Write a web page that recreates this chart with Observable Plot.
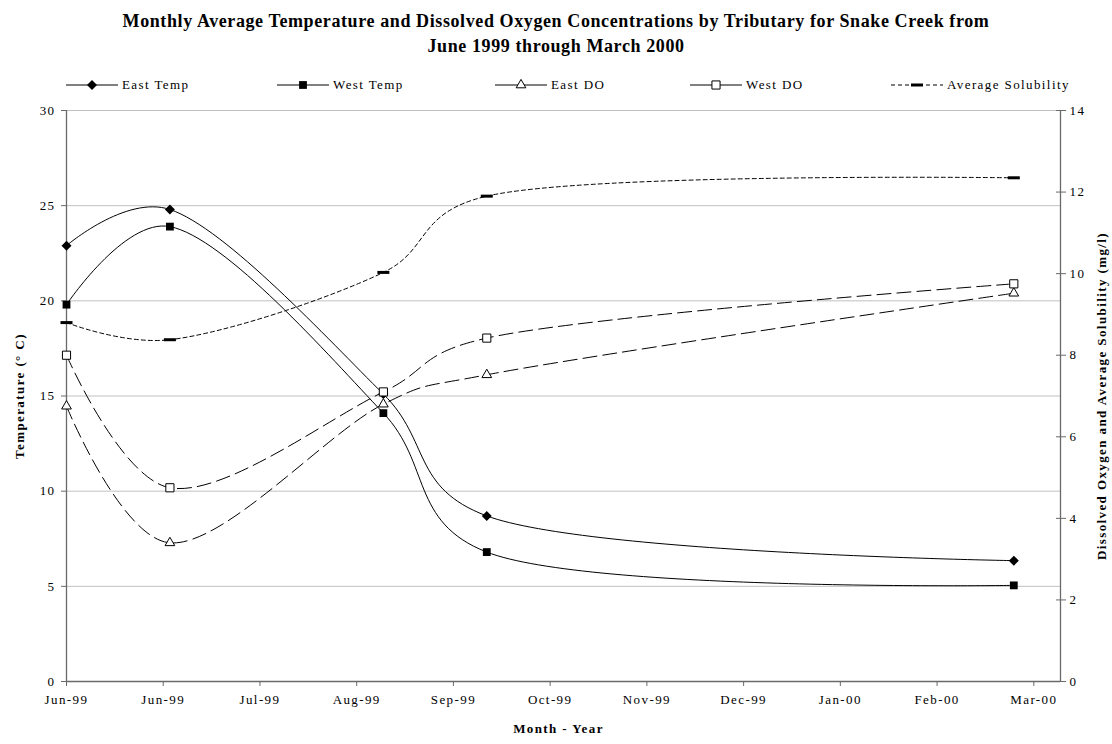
<!DOCTYPE html>
<html><head><meta charset="utf-8">
<script src="https://cdn.jsdelivr.net/npm/d3@7"></script>
<script src="https://cdn.jsdelivr.net/npm/@observablehq/plot@0.6"></script>
<style>
body{margin:0;background:#fff;font-family:"Liberation Serif","Times New Roman",serif;color:#000;}
#wrap{width:1112px;height:744px;position:relative;overflow:hidden;background:#fff}
#title{height:70px;box-sizing:border-box;padding-top:9px;text-align:center;font-weight:bold;font-size:18px;line-height:25px;letter-spacing:0.6px}
#legend{position:relative;height:30px;}
.li{position:absolute;top:0;height:30px;display:flex;align-items:center;font-size:13px;letter-spacing:1.4px;white-space:nowrap}
.li svg{margin-right:4px}
#chart svg text{letter-spacing:1.4px}
#chart g[aria-label="right-title"] text{letter-spacing:2px}
#chart g[aria-label="x-title"] text{letter-spacing:0.8px}
#chart g[aria-label="left-title"] text{letter-spacing:0.8px}
</style></head><body>
<div id="wrap">
<div id="title">Monthly Average Temperature and Dissolved Oxygen Concentrations by Tributary for Snake Creek from<br>June 1999 through March 2000</div>
<div id="legend"></div>
<div id="chart"></div>
</div>
<script>
// ---- data ----
const sampleDates = ["1999-06-01", "1999-07-02", "1999-09-04", "1999-10-05", "2000-03-11"];
const eastTemp = [22.9, 24.8, 15.1, 8.7, 6.35];
const westTemp = [19.8, 23.9, 14.1, 6.8, 5.05];
const eastDO   = [6.75, 3.4, 6.8, 7.52, 9.52];
const westDO   = [8.0, 4.75, 7.1, 8.42, 9.75];
const avgSolubility = [8.8, 8.38, 10.03, 11.9, 12.35];

const seriesNames = ["East Temp", "West Temp", "East DO", "West DO", "Average Solubility"];
const leftTicks = [0, 5, 10, 15, 20, 25, 30];
const rightTicks = [0, 2, 4, 6, 8, 10, 12, 14];
const xDomain = ["1999-06-01", "2000-03-25"];
const xTickDates = ["1999-06-01", "1999-06-30", "1999-07-29", "1999-08-27", "1999-09-25", "1999-10-24",
  "1999-11-22", "1999-12-21", "2000-01-19", "2000-02-17", "2000-03-17"];
const xTickLabels = ["Jun-99", "Jun-99", "Jul-99", "Aug-99", "Sep-99", "Oct-99", "Nov-99", "Dec-99", "Jan-00", "Feb-00", "Mar-00"];
const leftTitle = "Temperature (° C)";
const rightTitle = "Dissolved Oxygen and Average Solubility (mg/l)";
const xTitle = "Month - Year";

// ---- derived ----
const ratio = leftTicks[leftTicks.length - 1] / rightTicks[rightTicks.length - 1];
const parse = s => new Date(s + "T00:00:00Z");
const dates = sampleDates.map(parse);
const tickDates = xTickDates.map(parse);
const labelOf = new Map(tickDates.map((d, i) => [+d, xTickLabels[i]]));

const dashBar = {draw(ctx) { ctx.rect(-6, -1.5, 12, 3); }};
const styles = [
  {values: eastTemp, right: false, dash: null, symbol: "diamond2", r: 4.5, fill: "#000", stroke: "none"},
  {values: westTemp, right: false, dash: null, symbol: "square", r: 4.4, fill: "#000", stroke: "none"},
  {values: eastDO, right: true, dash: "14,6", symbol: "triangle", r: 3.6, fill: "#fff", stroke: "#000"},
  {values: westDO, right: true, dash: "14,6", symbol: "square", r: 4.6, fill: "#fff", stroke: "#000"},
  {values: avgSolubility, right: true, dash: "4,3", symbol: dashBar, r: 4, fill: "#000", stroke: "none"}
];

const seriesMarks = [];
styles.forEach((s, k) => {
  const rows = s.values.map((v, i) => ({date: dates[i], value: v, y: s.right ? v * ratio : v, series: seriesNames[k]}));
  seriesMarks.push(Plot.line(rows, {x: "date", y: "y", curve: "catmull-rom", tension: 0.25, stroke: "#000", strokeWidth: 1,
    strokeDasharray: s.dash ?? undefined}));
  seriesMarks.push(Plot.dot(rows, {x: "date", y: "y", symbol: s.symbol, r: s.r, fill: s.fill, stroke: s.stroke, strokeWidth: 1}));
});

const axisColor = "#6a6a6a";
const chart = Plot.plot({
  width: 1112,
  height: 644,
  marginLeft: 66,
  marginRight: 52,
  marginTop: 10,
  marginBottom: 63,
  style: {fontFamily: '"Liberation Serif", "Times New Roman", serif', fontSize: "13px", color: "#000", background: "#fff"},
  x: {type: "utc", domain: xDomain.map(parse)},
  y: {domain: [leftTicks[0], leftTicks[leftTicks.length - 1]]},
  marks: [
    Plot.ruleY(leftTicks.filter(t => t > 0), {stroke: "#c0c0c0", strokeWidth: 1}),
    Plot.ruleX(xDomain.map(parse), {stroke: axisColor, strokeWidth: 1.3}),
    Plot.ruleY([0], {stroke: axisColor, strokeWidth: 1.3}),
    Plot.axisY({anchor: "left", ticks: leftTicks, tickSize: 5, tickPadding: 6, stroke: axisColor, label: null}),
    Plot.axisY({anchor: "right", ticks: rightTicks.map(v => v * ratio), tickFormat: d => String(Math.round(d / ratio)),
      tickSize: 10, dx: -5, tickPadding: 4, stroke: axisColor, label: null}),
    Plot.axisX({ticks: tickDates, tickFormat: d => labelOf.get(+d), tickSize: 5, tickPadding: 8, stroke: axisColor, label: null}),
    ...seriesMarks,
    Plot.text([leftTitle], {frameAnchor: "left", textAnchor: "middle", rotate: -90, dx: -47, fontWeight: "bold", fontSize: 13, ariaLabel: "left-title"}),
    Plot.text([rightTitle], {frameAnchor: "right", textAnchor: "middle", rotate: -90, dx: 41, fontWeight: "bold", fontSize: 13, ariaLabel: "right-title"}),
    Plot.text([xTitle], {frameAnchor: "bottom", textAnchor: "middle", dy: 51, dx: -5, fontWeight: "bold", fontSize: 13, ariaLabel: "x-title"})
  ]
});
document.getElementById("chart").appendChild(chart);

// ---- legend ----
const legendX = [66, 277, 495, 690, 891];
const legend = d3.select("#legend");
styles.forEach((s, k) => {
  const item = legend.append("div").attr("class", "li").style("left", legendX[k] + "px");
  const svg = item.append("svg").attr("width", 52).attr("height", 14);
  svg.append("line").attr("x1", 0).attr("x2", 52).attr("y1", 7).attr("y2", 7)
    .attr("stroke", "#000").attr("stroke-dasharray", k === 4 ? "4,3" : null);
  const sym = typeof s.symbol === "string"
    ? d3.symbol({diamond2: d3.symbolDiamond2, square: d3.symbolSquare, triangle: d3.symbolTriangle}[s.symbol], Math.PI * s.r * s.r)()
    : "M-6,-1.5h12v3h-12z";
  svg.append("path").attr("d", sym).attr("transform", "translate(26,7)")
    .attr("fill", s.fill).attr("stroke", s.stroke);
  item.append("span").text(seriesNames[k]);
});
</script>
</body></html>
